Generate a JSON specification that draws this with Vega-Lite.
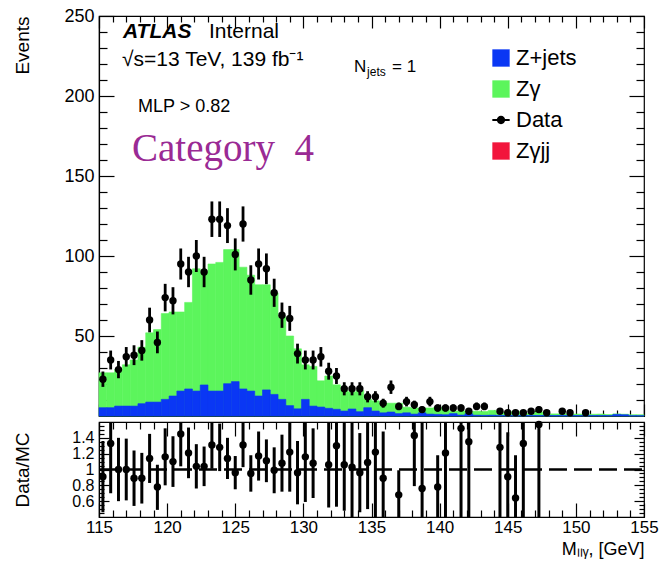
{
  "$schema": "https://vega.github.io/schema/vega-lite/v6.json",
  "background": "white",
  "padding": {"left": 12, "top": 6, "right": 0, "bottom": 0},
  "spacing": 2,
  "datasets": {
    "bins": [
      {"a":115.0,"b":115.571,"c":115.286,"zj":5.2,"tot":27,"n":23,"lo":18.2,"hi":27.8,"r":0.91,"rlo":0.46,"rhi":1.36},
      {"a":115.571,"b":116.143,"c":115.857,"zj":5.2,"tot":27,"n":35,"lo":29.1,"hi":40.9,"r":1.33,"rlo":0.70,"rhi":1.96},
      {"a":116.143,"b":116.714,"c":116.429,"zj":6.2,"tot":29,"n":29,"lo":23.6,"hi":34.4,"r":1.00,"rlo":0.60,"rhi":1.40},
      {"a":116.714,"b":117.286,"c":117.0,"zj":6.2,"tot":32,"n":37,"lo":30.9,"hi":43.1,"r":1.00,"rlo":0.61,"rhi":1.39},
      {"a":117.286,"b":117.857,"c":117.571,"zj":6.2,"tot":35,"n":38,"lo":31.8,"hi":44.2,"r":0.89,"rlo":0.54,"rhi":1.24},
      {"a":117.857,"b":118.429,"c":118.143,"zj":7.7,"tot":43,"n":41,"lo":34.6,"hi":47.4,"r":0.89,"rlo":0.57,"rhi":1.21},
      {"a":118.429,"b":119.0,"c":118.714,"zj":8.7,"tot":52,"n":60,"lo":52.3,"hi":67.7,"r":1.14,"rlo":0.83,"rhi":1.45},
      {"a":119.0,"b":119.571,"c":119.286,"zj":8.7,"tot":54,"n":46,"lo":39.2,"hi":52.8,"r":0.78,"rlo":0.49,"rhi":1.06},
      {"a":119.571,"b":120.143,"c":119.857,"zj":10.4,"tot":64,"n":74,"lo":65.4,"hi":82.6,"r":1.16,"rlo":0.80,"rhi":1.52},
      {"a":120.143,"b":120.714,"c":120.429,"zj":12.5,"tot":65,"n":72,"lo":63.5,"hi":80.5,"r":1.10,"rlo":0.78,"rhi":1.42},
      {"a":120.714,"b":121.286,"c":121.0,"zj":15.6,"tot":65,"n":95,"lo":85.3,"hi":104.7,"r":1.45,"rlo":1.04,"rhi":1.86},
      {"a":121.286,"b":121.857,"c":121.571,"zj":16.9,"tot":71,"n":90,"lo":80.5,"hi":99.5,"r":1.21,"rlo":0.89,"rhi":1.53},
      {"a":121.857,"b":122.429,"c":122.143,"zj":15.6,"tot":92,"n":100,"lo":90,"hi":110,"r":1.04,"rlo":0.76,"rhi":1.32},
      {"a":122.429,"b":123.0,"c":122.714,"zj":19.4,"tot":90,"n":90,"lo":80.5,"hi":99.5,"r":1.04,"rlo":0.79,"rhi":1.29},
      {"a":123.0,"b":123.571,"c":123.286,"zj":15.6,"tot":95,"n":123,"lo":111.9,"hi":134.1,"r":1.31,"rlo":1.01,"rhi":1.61},
      {"a":123.571,"b":124.143,"c":123.857,"zj":15.6,"tot":96,"n":123,"lo":111.9,"hi":134.1,"r":1.28,"rlo":0.98,"rhi":1.58},
      {"a":124.143,"b":124.714,"c":124.429,"zj":20.2,"tot":104,"n":119,"lo":108.1,"hi":129.9,"r":1.14,"rlo":0.88,"rhi":1.40},
      {"a":124.714,"b":125.286,"c":125.0,"zj":21.5,"tot":104,"n":101,"lo":91.0,"hi":111.0,"r":0.96,"rlo":0.75,"rhi":1.17},
      {"a":125.286,"b":125.857,"c":125.571,"zj":16.9,"tot":93,"n":120,"lo":109.0,"hi":131.0,"r":1.31,"rlo":1.03,"rhi":1.59},
      {"a":125.857,"b":126.429,"c":126.143,"zj":15.6,"tot":88,"n":85,"lo":75.8,"hi":94.2,"r":0.95,"rlo":0.72,"rhi":1.18},
      {"a":126.429,"b":127.0,"c":126.714,"zj":12.5,"tot":82,"n":95,"lo":85.3,"hi":104.7,"r":1.17,"rlo":0.86,"rhi":1.48},
      {"a":127.0,"b":127.571,"c":127.286,"zj":16.3,"tot":82,"n":92,"lo":82.4,"hi":101.6,"r":1.11,"rlo":0.84,"rhi":1.38},
      {"a":127.571,"b":128.143,"c":127.857,"zj":13.5,"tot":77,"n":77,"lo":68.2,"hi":85.8,"r":0.99,"rlo":0.70,"rhi":1.28},
      {"a":128.143,"b":128.714,"c":128.429,"zj":10.4,"tot":62,"n":63,"lo":55.1,"hi":70.9,"r":1.08,"rlo":0.72,"rhi":1.44},
      {"a":128.714,"b":129.286,"c":129.0,"zj":6.5,"tot":50,"n":61,"lo":53.2,"hi":68.8,"r":1.22,"rlo":0.72,"rhi":1.72},
      {"a":129.286,"b":129.857,"c":129.571,"zj":4.5,"tot":42,"n":39,"lo":32.8,"hi":45.2,"r":0.96,"rlo":0.56,"rhi":1.36},
      {"a":129.857,"b":130.429,"c":130.143,"zj":10.4,"tot":32,"n":35,"lo":29.1,"hi":40.9,"r":1.16,"rlo":0.59,"rhi":1.73},
      {"a":130.429,"b":131.0,"c":130.714,"zj":6.2,"tot":31,"n":35,"lo":29.1,"hi":40.9,"r":1.08,"rlo":0.64,"rhi":1.52},
      {"a":131.0,"b":131.571,"c":131.286,"zj":5.6,"tot":22,"n":37,"lo":30.9,"hi":43.1},
      {"a":131.571,"b":132.143,"c":131.857,"zj":4.8,"tot":25,"n":28,"lo":22.7,"hi":33.3,"r":1.06,"rlo":0.52,"rhi":1.60},
      {"a":132.143,"b":132.714,"c":132.429,"zj":4.2,"tot":19.5,"n":25,"lo":20,"hi":30,"r":1.30,"rlo":0.53,"rhi":2.07},
      {"a":132.714,"b":133.286,"c":133.0,"zj":3.1,"tot":16,"n":17,"lo":12.9,"hi":21.1,"r":1.06,"rlo":0.48,"rhi":1.64},
      {"a":133.286,"b":133.857,"c":133.571,"zj":4.4,"tot":15,"n":17,"lo":12.9,"hi":21.1,"r":1.03,"rlo":0.40,"rhi":1.66},
      {"a":133.857,"b":134.429,"c":134.143,"zj":2.7,"tot":16,"n":17,"lo":12.9,"hi":21.1,"r":0.96,"rlo":0.46,"rhi":1.46},
      {"a":134.429,"b":135.0,"c":134.714,"zj":5.2,"tot":10.5,"n":12,"lo":8.5,"hi":15.5,"r":1.09,"rlo":0.50,"rhi":1.68},
      {"a":135.0,"b":135.571,"c":135.286,"zj":3.1,"tot":9.5,"n":12,"lo":8.5,"hi":15.5,"r":1.22,"rlo":0.40,"rhi":2.04},
      {"a":135.571,"b":136.143,"c":135.857,"zj":2.0,"tot":8,"n":8,"lo":5.2,"hi":10.8,"r":0.89,"rlo":0.30,"rhi":1.48},
      {"a":136.143,"b":136.714,"c":136.429,"zj":2.5,"tot":8,"n":18,"lo":13.8,"hi":22.2},
      {"a":136.714,"b":137.286,"c":137.0,"zj":1.5,"tot":8,"n":6,"lo":3.6,"hi":8.4,"r":0.68,"rlo":0.37,"rhi":0.99},
      {"a":137.286,"b":137.857,"c":137.571,"zj":2.0,"tot":5.5,"n":9,"lo":6,"hi":12},
      {"a":137.857,"b":138.429,"c":138.143,"zj":1.2,"tot":5,"n":7,"lo":4.4,"hi":9.6,"r":1.43,"rlo":0.79,"rhi":2.07},
      {"a":138.429,"b":139.0,"c":138.714,"zj":2.0,"tot":5,"n":4,"lo":2,"hi":6,"r":0.76,"rlo":0.0,"rhi":1.61},
      {"a":139.0,"b":139.571,"c":139.286,"zj":1.2,"tot":5,"n":9,"lo":6,"hi":12},
      {"a":139.571,"b":140.143,"c":139.857,"zj":1.0,"tot":5.5,"n":5,"lo":2.8,"hi":7.2,"r":0.78,"rlo":0.38,"rhi":1.18},
      {"a":140.143,"b":140.714,"c":140.429,"zj":0.8,"tot":4,"n":5,"lo":2.8,"hi":7.2,"r":1.21,"rlo":0.36,"rhi":2.06},
      {"a":140.714,"b":141.286,"c":141.0,"zj":1.5,"tot":3,"n":5,"lo":2.8,"hi":7.2},
      {"a":141.286,"b":141.857,"c":141.571,"zj":0.6,"tot":3.2,"n":5,"lo":2.8,"hi":7.2,"r":1.52,"rlo":0.32,"rhi":2.72},
      {"a":141.857,"b":142.429,"c":142.143,"zj":1.5,"tot":2.5,"n":3,"lo":1.3,"hi":4.7,"r":1.35,"rlo":0.35,"rhi":2.35},
      {"a":142.429,"b":143.0,"c":142.714,"zj":0.5,"tot":3,"n":6,"lo":3.6,"hi":8.4},
      {"a":143.0,"b":143.571,"c":143.286,"zj":0.4,"tot":2.8,"n":6,"lo":3.6,"hi":8.4},
      {"a":143.571,"b":144.143,"c":143.857,"zj":0.5,"tot":3.5},
      {"a":144.143,"b":144.714,"c":144.429,"zj":0.3,"tot":2.3,"n":3,"lo":1.3,"hi":4.7,"r":1.28,"rlo":0.28,"rhi":2.28},
      {"a":144.714,"b":145.286,"c":145.0,"zj":0.3,"tot":2.2,"n":2,"lo":0.6,"hi":3.4,"r":0.91,"rlo":0.35,"rhi":1.47},
      {"a":145.286,"b":145.857,"c":145.571,"zj":0.3,"tot":3.0,"n":2,"lo":0.6,"hi":3.4,"r":0.64,"rlo":0.10,"rhi":1.18},
      {"a":145.857,"b":146.429,"c":146.143,"zj":0.3,"tot":1.5,"n":2,"lo":0.6,"hi":3.4,"r":1.33,"rlo":0.33,"rhi":2.33},
      {"a":146.429,"b":147.0,"c":146.714,"zj":0.3,"tot":1.6,"n":3,"lo":1.3,"hi":4.7},
      {"a":147.0,"b":147.571,"c":147.286,"zj":0.3,"tot":2.5,"n":4,"lo":2,"hi":6,"r":1.57,"rlo":0.37,"rhi":2.77},
      {"a":147.571,"b":148.143,"c":147.857,"zj":0.3,"tot":1.2,"n":2,"lo":0.6,"hi":3.4},
      {"a":148.143,"b":148.714,"c":148.429,"zj":0.3,"tot":1.3},
      {"a":148.714,"b":149.286,"c":149.0,"zj":0.3,"tot":1.4,"n":3,"lo":1.3,"hi":4.7},
      {"a":149.286,"b":149.857,"c":149.571,"zj":0.3,"tot":1.1,"n":2,"lo":0.6,"hi":3.4},
      {"a":149.857,"b":150.429,"c":150.143,"zj":0.3,"tot":1.2},
      {"a":150.429,"b":151.0,"c":150.714,"zj":0.3,"tot":1.0,"n":2,"lo":0.6,"hi":3.4},
      {"a":151.0,"b":151.571,"c":151.286,"zj":0.3,"tot":1.1},
      {"a":151.571,"b":152.143,"c":151.857,"zj":0.3,"tot":1.2},
      {"a":152.143,"b":152.714,"c":152.429,"zj":0.3,"tot":0.9},
      {"a":152.714,"b":153.286,"c":153.0,"zj":1.0,"tot":1.3},
      {"a":153.286,"b":153.857,"c":153.571,"zj":0.8,"tot":1.1},
      {"a":153.857,"b":154.429,"c":154.143,"zj":0.2,"tot":0.8},
      {"a":154.429,"b":155.0,"c":154.714,"zj":0.2,"tot":0.8}
    ]
  },
  "vconcat": [
    {
      "width": 545,
      "height": 400,
      "data": {"name": "bins"},
      "layer": [
        {
          "mark": {"type": "bar", "stroke": "#5cf55c", "strokeWidth": 0.6},
          "encoding": {
            "x": {"field": "a", "type": "quantitative", "scale": {"domain": [115, 155], "nice": false, "zero": false},
              "axis": {"orient": "bottom", "values": [115,120,125,130,135,140,145,150,155], "tickSize": -12, "labels": false, "title": null, "domain": true, "domainColor": "black", "domainWidth": 1.2}},
            "x2": {"field": "b"},
            "y": {"field": "tot", "type": "quantitative", "stack": null, "scale": {"domain": [0, 250], "nice": false},
              "axis": {"orient": "left", "values": [50,100,150,200,250], "tickSize": -15, "labelPadding": 20, "labelFontSize": 18, "labelOverlap": false, "title": "Events", "titleFontSize": 19, "titleAnchor": "end", "titleX": -67, "domain": true, "domainColor": "black", "domainWidth": 1.2}},
            "y2": {"datum": 0},
            "color": {
              "datum": "Zγ",
              "scale": {"domain": ["Z+jets", "Zγ", "Data", "Zγjj"], "range": ["#0a37f4", "#5cf55c", "#000000", "#f2153c"]},
              "legend": {
                "orient": "none", "legendX": 391, "legendY": 31, "title": null,
                "labelFont": "Liberation Sans", "labelFontSize": 22, "labelColor": "black",
                "symbolSize": 300, "rowPadding": 9, "labelOffset": 4, "padding": 0, "symbolStrokeWidth": 0, "symbolOpacity": 1,
                "symbolType": {"expr": "datum.value === 'Data' ? 'M-1,-0.11H1V0.11H-1Z M0.48,0A0.48,0.48 0 1,1 -0.48,0A0.48,0.48 0 1,1 0.48,0Z' : 'square'"}
              }
            }
          }
        },
        {
          "mark": {"type": "bar", "stroke": "#0a37f4", "strokeWidth": 0.6},
          "encoding": {
            "x": {"field": "a", "type": "quantitative", "scale": {"domain": [115, 155], "nice": false, "zero": false},
              "axis": {"orient": "bottom", "values": [116,117,118,119,121,122,123,124,126,127,128,129,131,132,133,134,136,137,138,139,141,142,143,144,146,147,148,149,151,152,153,154], "tickSize": -6, "labels": false, "title": null}},
            "x2": {"field": "b"},
            "y": {"field": "zj", "type": "quantitative", "stack": null, "scale": {"domain": [0, 250], "nice": false},
              "axis": {"orient": "left", "values": [10,20,30,40,60,70,80,90,110,120,130,140,160,170,180,190,210,220,230,240], "tickSize": -8, "labels": false, "title": null}},
            "y2": {"datum": 0},
            "color": {"datum": "Z+jets"}
          }
        },
        {
          "transform": [{"filter": "isValid(datum.n)"}],
          "mark": {"type": "rule", "strokeWidth": 2.8},
          "encoding": {
            "x": {"field": "c", "type": "quantitative", "scale": {"domain": [115, 155], "nice": false, "zero": false},
              "axis": {"orient": "top", "values": [115,120,125,130,135,140,145,150,155], "tickSize": -12, "labels": false, "title": null}},
            "y": {"field": "lo", "type": "quantitative", "scale": {"domain": [0, 250], "nice": false},
              "axis": {"orient": "right", "values": [50,100,150,200,250], "tickSize": -15, "labels": false, "title": null}},
            "y2": {"field": "hi"},
            "color": {"datum": "Data"}
          }
        },
        {
          "transform": [{"filter": "isValid(datum.n)"}],
          "mark": {"type": "point", "filled": true, "shape": "circle", "size": 55, "opacity": 1},
          "encoding": {
            "x": {"field": "c", "type": "quantitative", "scale": {"domain": [115, 155], "nice": false, "zero": false},
              "axis": {"orient": "top", "values": [116,117,118,119,121,122,123,124,126,127,128,129,131,132,133,134,136,137,138,139,141,142,143,144,146,147,148,149,151,152,153,154], "tickSize": -6, "labels": false, "title": null}},
            "y": {"field": "n", "type": "quantitative", "scale": {"domain": [0, 250], "nice": false},
              "axis": {"orient": "right", "values": [10,20,30,40,60,70,80,90,110,120,130,140,160,170,180,190,210,220,230,240], "tickSize": -8, "labels": false, "title": null}},
            "color": {"datum": "Data"}
          }
        },
        {
          "data": {"values": [{}]},
          "mark": {"type": "text", "text": "ATLAS", "font": "Liberation Sans", "fontSize": 21, "fontWeight": "bold", "fontStyle": "italic", "align": "left", "baseline": "alphabetic", "color": "black"},
          "encoding": {"x": {"datum": 116.76, "type": "quantitative", "axis": null}, "y": {"datum": 236.2, "type": "quantitative", "axis": null}}
        },
        {
          "data": {"values": [{}]},
          "mark": {"type": "text", "text": "Internal", "font": "Liberation Sans", "fontSize": 21, "align": "left", "baseline": "alphabetic", "color": "black"},
          "encoding": {"x": {"datum": 123.07, "type": "quantitative", "axis": null}, "y": {"datum": 236.2, "type": "quantitative", "axis": null}}
        },
        {
          "data": {"values": [{}]},
          "mark": {"type": "text", "text": "√s=13 TeV, 139 fb⁻¹", "font": "Liberation Sans", "fontSize": 21, "align": "left", "baseline": "alphabetic", "color": "black"},
          "encoding": {"x": {"datum": 116.69, "type": "quantitative", "axis": null}, "y": {"datum": 218.7, "type": "quantitative", "axis": null}}
        },
        {
          "data": {"values": [{}]},
          "mark": {"type": "text", "text": "N", "font": "Liberation Sans", "fontSize": 17, "align": "left", "baseline": "alphabetic", "color": "black"},
          "encoding": {"x": {"datum": 133.72, "type": "quantitative", "axis": null}, "y": {"datum": 215, "type": "quantitative", "axis": null}}
        },
        {
          "data": {"values": [{}]},
          "mark": {"type": "text", "text": "jets", "font": "Liberation Sans", "fontSize": 12, "align": "left", "baseline": "alphabetic", "color": "black", "dx": 13, "dy": 4},
          "encoding": {"x": {"datum": 133.72, "type": "quantitative", "axis": null}, "y": {"datum": 215, "type": "quantitative", "axis": null}}
        },
        {
          "data": {"values": [{}]},
          "mark": {"type": "text", "text": "= 1", "font": "Liberation Sans", "fontSize": 17, "align": "left", "baseline": "alphabetic", "color": "black", "dx": 38},
          "encoding": {"x": {"datum": 133.72, "type": "quantitative", "axis": null}, "y": {"datum": 215, "type": "quantitative", "axis": null}}
        },
        {
          "data": {"values": [{}]},
          "mark": {"type": "text", "text": "MLP > 0.82", "font": "Liberation Sans", "fontSize": 18, "align": "left", "baseline": "alphabetic", "color": "black"},
          "encoding": {"x": {"datum": 117.86, "type": "quantitative", "axis": null}, "y": {"datum": 190, "type": "quantitative", "axis": null}}
        },
        {
          "data": {"values": [{}]},
          "mark": {"type": "text", "text": "Category\u00a0 4", "font": "Liberation Serif", "fontSize": 39, "align": "left", "baseline": "alphabetic", "color": "#9a2a94"},
          "encoding": {"x": {"datum": 117.42, "type": "quantitative", "axis": null}, "y": {"datum": 159.4, "type": "quantitative", "axis": null}}
        }
      ],
      "resolve": {"axis": {"x": "independent", "y": "independent"}}
    },
    {
      "width": 545,
      "height": 95,
      "layer": [
        {
          "data": {"name": "bins"},
          "transform": [{"filter": "isValid(datum.r)"}],
          "mark": {"type": "rule", "strokeWidth": 3, "color": "black", "clip": true},
          "encoding": {
            "x": {"field": "c", "type": "quantitative", "scale": {"domain": [115, 155], "nice": false, "zero": false},
              "axis": {"orient": "bottom", "values": [115,120,125,130,135,140,145,150,155], "tickSize": -14, "labelPadding": 16, "labelFontSize": 17, "labelFlush": false, "labelOverlap": false,
                "title": "Mₗₗᵧ, [GeV]", "titleFontSize": 18, "titleAnchor": "end", "titleBaseline": "alphabetic", "titleY": 37, "domain": true, "domainColor": "black", "domainWidth": 1.2}},
            "y": {"field": "rlo", "type": "quantitative", "scale": {"domain": [0.4, 1.6], "nice": false, "zero": false},
              "axis": {"orient": "left", "values": [0.6, 0.8, 1, 1.2, 1.4], "format": "~g", "tickSize": -10, "labelPadding": 15, "labelFontSize": 16, "labelOverlap": false, "title": "Data/MC", "titleFontSize": 19, "titleX": -67, "titleAnchor": "middle", "domain": true, "domainColor": "black", "domainWidth": 1.2}},
            "y2": {"field": "rhi"}
          }
        },
        {
          "data": {"name": "bins"},
          "transform": [{"filter": "isValid(datum.r)"}],
          "mark": {"type": "point", "filled": true, "shape": "circle", "size": 55, "opacity": 1, "color": "black"},
          "encoding": {
            "x": {"field": "c", "type": "quantitative", "scale": {"domain": [115, 155], "nice": false, "zero": false},
              "axis": {"orient": "bottom", "values": [116,117,118,119,121,122,123,124,126,127,128,129,131,132,133,134,136,137,138,139,141,142,143,144,146,147,148,149,151,152,153,154], "tickSize": -7, "labels": false, "title": null}},
            "y": {"field": "r", "type": "quantitative", "scale": {"domain": [0.4, 1.6], "nice": false, "zero": false},
              "axis": {"orient": "left", "values": [0.45,0.5,0.55,0.65,0.7,0.75,0.85,0.9,0.95,1.05,1.1,1.15,1.25,1.3,1.35,1.45,1.5,1.55], "tickSize": -5, "labels": false, "title": null}}
          }
        },
        {
          "data": {"values": [{}]},
          "mark": {"type": "rule", "strokeDash": [18, 7], "strokeWidth": 2, "color": "black"},
          "encoding": {
            "x": {"datum": 115, "type": "quantitative", "scale": {"domain": [115, 155], "nice": false, "zero": false},
              "axis": {"orient": "top", "values": [115,120,125,130,135,140,145,150,155], "tickSize": -14, "labels": false, "title": null}},
            "x2": {"datum": 155},
            "y": {"datum": 1, "type": "quantitative", "scale": {"domain": [0.4, 1.6], "nice": false, "zero": false},
              "axis": {"orient": "right", "values": [0.6, 0.8, 1, 1.2, 1.4], "tickSize": -10, "labels": false, "title": null}}
          }
        },
        {
          "data": {"values": [{}]},
          "mark": {"type": "rule", "strokeDash": [18, 7], "strokeWidth": 2, "color": "black"},
          "encoding": {
            "x": {"datum": 115, "type": "quantitative", "scale": {"domain": [115, 155], "nice": false, "zero": false},
              "axis": {"orient": "top", "values": [116,117,118,119,121,122,123,124,126,127,128,129,131,132,133,134,136,137,138,139,141,142,143,144,146,147,148,149,151,152,153,154], "tickSize": -7, "labels": false, "title": null}},
            "x2": {"datum": 155},
            "y": {"datum": 1, "type": "quantitative", "scale": {"domain": [0.4, 1.6], "nice": false, "zero": false},
              "axis": {"orient": "right", "values": [0.45,0.5,0.55,0.65,0.7,0.75,0.85,0.9,0.95,1.05,1.1,1.15,1.25,1.3,1.35,1.45,1.5,1.55], "tickSize": -5, "labels": false, "title": null}}
          }
        }
      ],
      "resolve": {"axis": {"x": "independent", "y": "independent"}}
    }
  ],
  "config": {
    "view": {"stroke": "black", "strokeWidth": 1.2},
    "axis": {"grid": false, "domain": false, "tickColor": "black", "tickWidth": 1.2, "labelColor": "black", "titleColor": "black", "labelFont": "Liberation Sans", "titleFont": "Liberation Sans", "titleFontWeight": "normal", "zindex": 1},
    "text": {"font": "Liberation Sans"}
  }
}
